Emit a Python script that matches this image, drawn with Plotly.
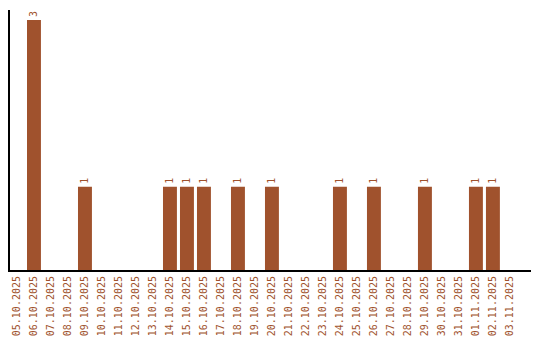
import plotly.graph_objects as go

dates = ["05.10.2025","06.10.2025","07.10.2025","08.10.2025","09.10.2025","10.10.2025",
         "11.10.2025","12.10.2025","13.10.2025","14.10.2025","15.10.2025","16.10.2025",
         "17.10.2025","18.10.2025","19.10.2025","20.10.2025","21.10.2025","22.10.2025",
         "23.10.2025","24.10.2025","25.10.2025","26.10.2025","27.10.2025","28.10.2025",
         "29.10.2025","30.10.2025","31.10.2025","01.11.2025","02.11.2025","03.11.2025"]
counts = [0,3,0,0,1,0,0,0,0,1,1,1,0,1,0,1,0,0,0,1,0,1,0,0,1,0,0,1,1,0]
labels = [str(c) if c else "" for c in counts]

color = "#A0522D"
font = "DejaVu Sans Mono"

fig = go.Figure(go.Bar(
    x=dates, y=counts, marker_color=color, marker_line_width=0,
    text=labels, textposition="outside", textangle=-90,
    textfont=dict(family=font, size=10, color=color),
    cliponaxis=False,
))
fig.update_layout(
    width=540, height=340, margin=dict(l=10, r=9, t=10, b=70),
    paper_bgcolor="white", plot_bgcolor="white", bargap=0.18,
    showlegend=False,
)
fig.update_xaxes(type="category", range=[-0.41, 30.24], tickangle=-90, showline=True,
                 linecolor="black", linewidth=2, ticks="", showgrid=False,
                 automargin=False, tickfont=dict(family=font, size=10, color=color))
fig.update_yaxes(range=[0, 3.12], showline=True, linecolor="black", linewidth=2,
                 showticklabels=False, ticks="", showgrid=False, zeroline=False,
                 automargin=False)
fig.write_html("out.html")
